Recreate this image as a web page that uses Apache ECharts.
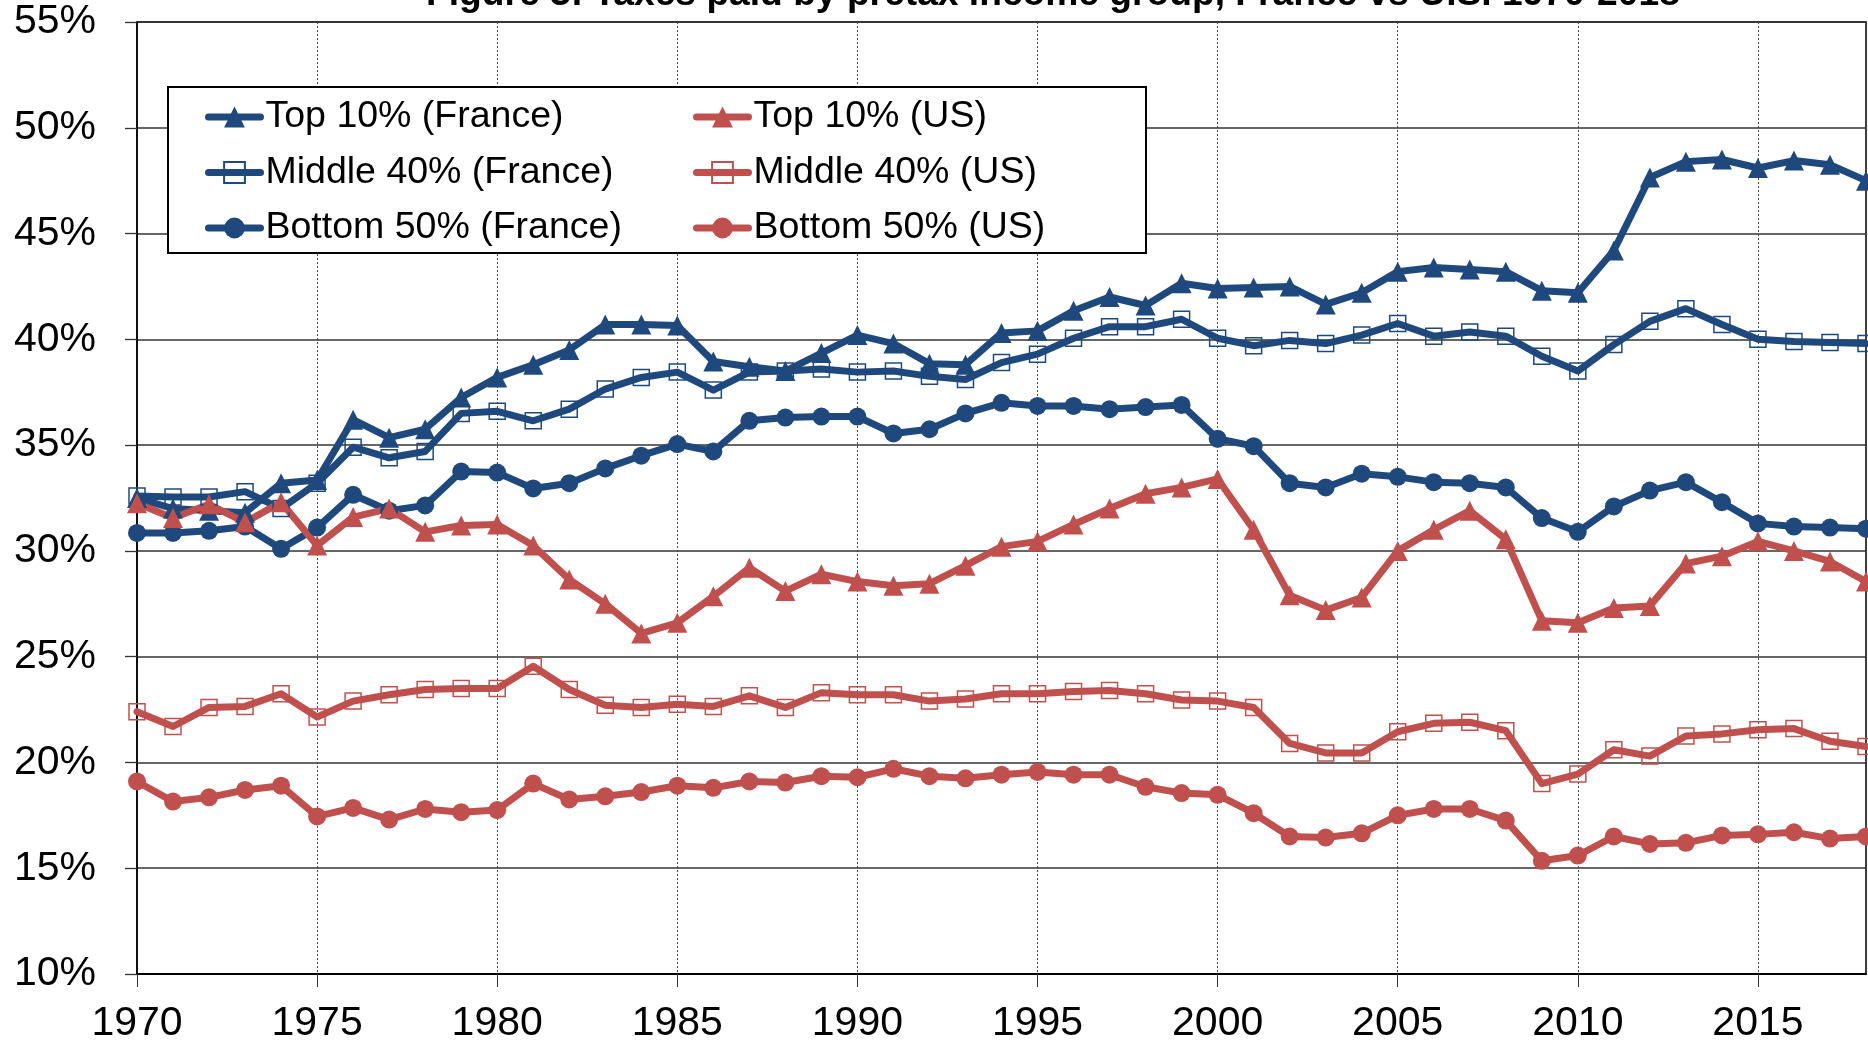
<!DOCTYPE html>
<html>
<head>
<meta charset="utf-8">
<script src="https://cdn.jsdelivr.net/npm/echarts@6/dist/echarts.min.js"></script>
<style>
  html, body { margin: 0; padding: 0; background: #fff; }
  #chart { width: 1868px; height: 1049px; }
</style>
</head>
<body>
<div id="chart"></div>
<script>
const TITLE = 'Figure 3: Taxes paid by pretax income group, France vs U.S. 1970-2018';

const years = [1970,1971,1972,1973,1974,1975,1976,1977,1978,1979,
               1980,1981,1982,1983,1984,1985,1986,1987,1988,1989,
               1990,1991,1992,1993,1994,1995,1996,1997,1998,1999,
               2000,2001,2002,2003,2004,2005,2006,2007,2008,2009,
               2010,2011,2012,2013,2014,2015,2016,2017,2018];

const xTickLabels = [1970,1975,1980,1985,1990,1995,2000,2005,2010,2015];
const yTickLabels = [10,15,20,25,30,35,40,45,50,55];

const seriesNames = ['Top 10% (France)','Middle 40% (France)','Bottom 50% (France)',
                     'Top 10% (US)','Middle 40% (US)','Bottom 50% (US)'];

const top10France = [32.5,32.0,31.9,31.8,33.2,33.35,36.2,35.35,35.75,37.25,
                     38.2,38.8,39.5,40.7,40.7,40.65,38.95,38.7,38.5,39.35,
                     40.2,39.8,38.85,38.8,40.3,40.4,41.35,42.0,41.6,42.65,
                     42.4,42.45,42.5,41.65,42.2,43.2,43.4,43.3,43.2,42.3,
                     42.2,44.2,47.65,48.4,48.5,48.1,48.45,48.25,47.5];

const middle40France = [32.6,32.55,32.55,32.8,32.0,33.2,34.9,34.4,34.7,36.5,
                        36.6,36.15,36.7,37.65,38.2,38.45,37.6,38.45,38.5,38.6,
                        38.45,38.5,38.25,38.1,38.9,39.3,40.05,40.6,40.6,40.95,
                        40.05,39.7,39.95,39.8,40.2,40.75,40.15,40.35,40.15,39.2,
                        38.5,39.75,40.85,41.45,40.7,40.0,39.9,39.85,39.8];

const bottom50France = [30.85,30.85,30.95,31.15,30.1,31.1,32.65,31.9,32.15,33.75,
                        33.7,32.95,33.2,33.9,34.5,35.05,34.7,36.15,36.3,36.35,
                        36.35,35.55,35.75,36.5,37.0,36.85,36.85,36.7,36.8,36.9,
                        35.3,34.95,33.2,33.0,33.65,33.5,33.25,33.2,33.0,31.55,
                        30.9,32.1,32.85,33.25,32.3,31.3,31.15,31.1,31.05];

const top10US = [32.25,31.55,32.2,31.35,32.3,30.25,31.6,32.0,30.9,31.2,
                 31.25,30.25,28.65,27.5,26.1,26.6,27.85,29.2,28.1,28.9,
                 28.55,28.35,28.45,29.3,30.2,30.45,31.25,32.0,32.7,33.0,
                 33.4,31.0,27.9,27.2,27.8,30.0,31.0,31.9,30.55,26.7,
                 26.6,27.3,27.4,29.4,29.75,30.45,30.0,29.5,28.55];

const middle40US = [22.4,21.7,22.6,22.65,23.25,22.15,22.9,23.2,23.45,23.5,
                    23.5,24.55,23.45,22.7,22.6,22.75,22.65,23.15,22.6,23.3,
                    23.2,23.2,22.9,23.0,23.25,23.25,23.35,23.4,23.25,22.95,
                    22.9,22.6,20.9,20.45,20.45,21.45,21.85,21.9,21.5,19.0,
                    19.45,20.6,20.3,21.25,21.35,21.55,21.6,21.0,20.75];

const bottom50US = [19.1,18.15,18.35,18.7,18.9,17.45,17.85,17.3,17.8,17.65,
                    17.75,19.0,18.25,18.4,18.6,18.9,18.8,19.1,19.05,19.35,
                    19.3,19.7,19.35,19.25,19.42,19.55,19.42,19.42,18.85,18.55,
                    18.47,17.6,16.5,16.45,16.65,17.5,17.8,17.8,17.25,15.35,
                    15.6,16.5,16.15,16.2,16.55,16.6,16.7,16.4,16.5];

const BLUE = '#1F497D';
const RED = '#C0504D';
const FONT = '"Liberation Sans", Arial, sans-serif';

function pairs(vals) { return years.map((y, i) => [y, vals[i]]); }

function mkSeries(name, vals, color, symbol) {
  const hollow = symbol === 'rect';
  return {
    name: name,
    type: 'line',
    data: pairs(vals),
    symbol: symbol,
    symbolSize: symbol === 'triangle' ? 20 : (symbol === 'circle' ? 18 : 16),
    showAllSymbol: true,
    lineStyle: { color: color, width: 7, cap: 'round', join: 'round' },
    itemStyle: hollow
      ? { color: 'rgba(255,255,255,0)', borderColor: color, borderWidth: 1.5 }
      : { color: color, borderWidth: 0 },
    emphasis: { disabled: true },
    z: 3
  };
}

const chart = echarts.init(document.getElementById('chart'), null, { renderer: 'canvas' });

const legendCommon = {
  orient: 'vertical',
  itemWidth: 52,
  itemHeight: 26,
  itemGap: 17.5,
  padding: 0,
  selectedMode: false,
  lineStyle: { width: 7, cap: 'round' },
  textStyle: { fontSize: 37.5, fontFamily: FONT, color: '#000' },
  z: 10
};

chart.setOption({
  animation: false,
  backgroundColor: '#fff',
  textStyle: { fontFamily: FONT },
  title: {
    text: TITLE,
    left: 426,
    top: -24,
    padding: 0,
    textStyle: { fontSize: 37.2, fontWeight: 'bold', fontFamily: FONT, color: '#000' }
  },
  grid: {
    left: 137, right: 2, top: 22, bottom: 75,
    show: true, borderColor: '#000', borderWidth: 1.5, containLabel: false
  },
  graphic: [{
    type: 'rect',
    z: 5,
    shape: { x: 168, y: 87, width: 978, height: 166 },
    style: { fill: '#fff', stroke: '#000', lineWidth: 2 }
  }],
  legend: [
    Object.assign({}, legendCommon, { left: 205, top: 98, data: seriesNames.slice(0, 3) }),
    Object.assign({}, legendCommon, { left: 693, top: 98, data: seriesNames.slice(3, 6) })
  ],
  xAxis: {
    type: 'value',
    min: 1970, max: 2018, interval: 5,
    axisLine: { show: true, lineStyle: { color: '#000', width: 2 } },
    axisTick: { show: true, inside: false, length: 13, lineStyle: { color: '#333', width: 1 }, customValues: xTickLabels },
    axisLabel: { fontSize: 41, color: '#000', margin: 29, fontFamily: FONT, customValues: xTickLabels, formatter: v => String(v) },
    splitLine: { show: true, lineStyle: { color: '#444', width: 1, type: [2, 2] } }
  },
  yAxis: {
    type: 'value',
    min: 10, max: 55, interval: 5,
    axisLine: { show: true, lineStyle: { color: '#000', width: 1.5 } },
    axisTick: { show: true, inside: false, length: 12, lineStyle: { color: '#333', width: 1.3 } },
    axisLabel: { fontSize: 41, color: '#000', margin: 41, fontFamily: FONT, formatter: v => v + '%' },
    splitLine: { show: true, lineStyle: { color: '#333', width: 1.5 } }
  },
  series: [
    mkSeries(seriesNames[0], top10France, BLUE, 'triangle'),
    mkSeries(seriesNames[1], middle40France, BLUE, 'rect'),
    mkSeries(seriesNames[2], bottom50France, BLUE, 'circle'),
    mkSeries(seriesNames[3], top10US, RED, 'triangle'),
    mkSeries(seriesNames[4], middle40US, RED, 'rect'),
    mkSeries(seriesNames[5], bottom50US, RED, 'circle')
  ]
});
</script>
</body>
</html>
